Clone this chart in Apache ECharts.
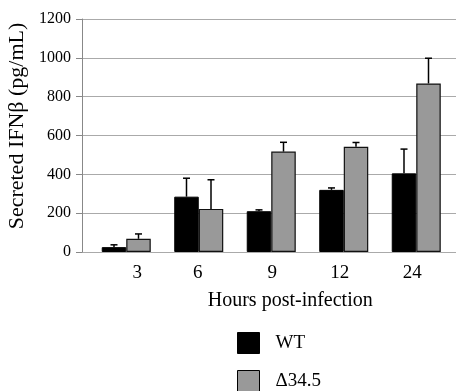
<!DOCTYPE html>
<html><head><meta charset="utf-8">
<script src="https://cdn.jsdelivr.net/npm/echarts@6/dist/echarts.min.js"></script>
<style>html,body{margin:0;padding:0;background:#fff}#c{width:457px;height:391px}</style>
</head><body><div id="c"></div>
<script>
const categories = ['3', '6', '9', '12', '24'];
const wtValues = [25, 285, 210, 320, 405];
const wtErrors = [12, 95, 7, 10, 125];
const d345Values = [68, 222, 517, 542, 868];
const d345Errors = [25, 150, 48, 22, 130];
const yTicks = [0, 200, 400, 600, 800, 1000, 1200];

const FONT = 'Liberation Serif';
const chart = echarts.init(document.getElementById('c'));

// small horizontal nudges of the tick labels, as in the original figure
const labelNudge = [11, -1, 1, -4, -4];

function errItem(sign) {
  return function (params, api) {
    const x = api.value(0), v = api.value(1), e = api.value(2);
    const band = api.size([1, 0])[0];
    const bw = band * 0.338;
    const base = api.coord([x, v]);
    const top = api.coord([x, v + e]);
    const cx = base[0] + sign * bw / 2;
    const style = { stroke: '#000', lineWidth: 1.5 };
    return { type: 'group', children: [
      { type: 'line', shape: { x1: cx, y1: base[1], x2: cx, y2: top[1] }, style },
      { type: 'line', shape: { x1: cx - 3.5, y1: top[1], x2: cx + 3.5, y2: top[1] }, style }
    ]};
  };
}

const rich = {};
labelNudge.forEach((n, i) => {
  rich['l' + i] = { fontFamily: FONT, fontSize: 19, color: '#000',
    padding: n >= 0 ? [0, 0, 0, 2 * n] : [0, -2 * n, 0, 0] };
});

const legendBase = {
  left: 237, padding: 0, itemWidth: 22, itemHeight: 21, icon: 'rect',
  textStyle: { fontFamily: FONT, fontSize: 19, color: '#000', padding: [0, 0, 0, 11] }
};

chart.setOption({
  animation: false,
  textStyle: { fontFamily: FONT },
  grid: [
    { left: 82, right: 1, top: 19, bottom: 139, containLabel: false, outerBoundsMode: 'none' },
    { left: 90, right: 4.5, top: 19, bottom: 139, containLabel: false, outerBoundsMode: 'none' }
  ],
  legend: [
    Object.assign({}, legendBase, { top: 332,
      data: [{ name: 'WT', itemStyle: { color: '#000', borderColor: '#000', borderWidth: 1 } }] }),
    Object.assign({}, legendBase, { top: 370,
      data: [{ name: 'Δ34.5', itemStyle: { color: '#999', borderColor: '#000', borderWidth: 1 } }] })
  ],
  xAxis: [
    { gridIndex: 0, type: 'category', data: categories, show: false },
    { gridIndex: 1, type: 'category', data: categories,
      axisLine: { show: false }, axisTick: { show: false },
      axisLabel: { fontFamily: FONT, fontSize: 19, color: '#000', margin: 12,
        interval: 0, hideOverlap: false,
        formatter: (v, i) => '{l' + i + '|' + v + '}', rich: rich },
      name: 'Hours post-infection', nameLocation: 'middle', nameGap: 39,
      nameTextStyle: { fontFamily: FONT, fontSize: 20, color: '#000', padding: [0, 0, 0, 38] } }
  ],
  yAxis: [
    { gridIndex: 0, type: 'value', min: 0, max: 1200, interval: 200,
      axisLine: { show: true, lineStyle: { color: '#888', width: 1 } },
      axisTick: { show: true, length: 6, lineStyle: { color: '#888' } },
      axisLabel: { fontFamily: FONT, fontSize: 16, color: '#000', margin: 11,
        formatter: v => yTicks.includes(v) ? String(v) : '' },
      splitLine: { show: true, lineStyle: { color: '#aaa', width: 1 } },
      name: 'Secreted IFNβ (pg/mL)', nameLocation: 'middle', nameGap: 48,
      nameTextStyle: { fontFamily: FONT, fontSize: 22, color: '#000', padding: [0, 0, 0, 19] } },
    { gridIndex: 1, type: 'value', min: 0, max: 1200, interval: 200, show: false }
  ],
  series: [
    { name: 'WT', type: 'bar', xAxisIndex: 1, yAxisIndex: 1, data: wtValues,
      barWidth: '33.8%', barGap: '0%',
      itemStyle: { color: '#000', borderColor: '#000', borderWidth: 1 } },
    { name: 'Δ34.5', type: 'bar', xAxisIndex: 1, yAxisIndex: 1, data: d345Values,
      barWidth: '33.8%', barGap: '0%',
      itemStyle: { color: '#999', borderColor: '#111', borderWidth: 1.2 } },
    { type: 'custom', xAxisIndex: 1, yAxisIndex: 1, z: 5, renderItem: errItem(-1),
      data: wtValues.map((v, i) => [i, v, wtErrors[i]]) },
    { type: 'custom', xAxisIndex: 1, yAxisIndex: 1, z: 5, renderItem: errItem(1),
      data: d345Values.map((v, i) => [i, v, d345Errors[i]]) },
    { type: 'line', xAxisIndex: 0, yAxisIndex: 0, data: [], silent: true }
  ]
});
</script></body></html>
